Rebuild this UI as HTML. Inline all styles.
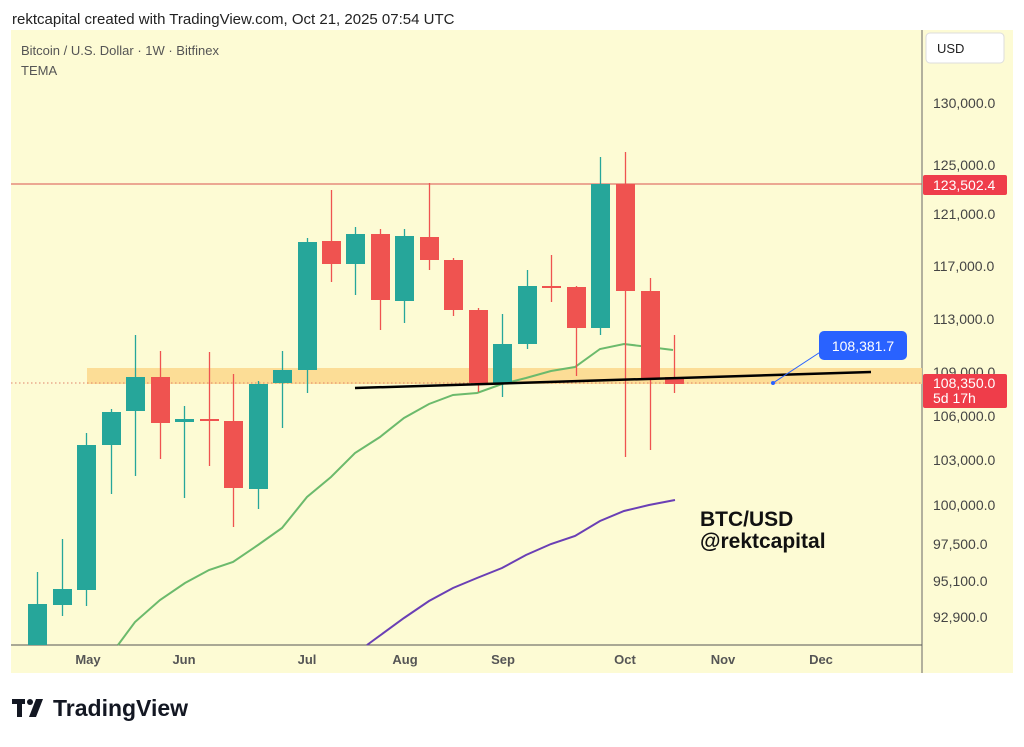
<!DOCTYPE html>
<html><head><meta charset="utf-8"><style>
body{margin:0;background:#fff;width:1024px;height:742px;overflow:hidden;font-family:"Liberation Sans",sans-serif}
</style></head><body>
<svg width="1024" height="742" xmlns="http://www.w3.org/2000/svg" font-family="Liberation Sans, sans-serif">
<text x="12" y="24" font-size="15" fill="#222">rektcapital created with TradingView.com, Oct 21, 2025 07:54 UTC</text>
<rect x="11" y="30" width="1002" height="643" fill="#fdfbd4"/>
<line x1="922" y1="30" x2="922" y2="673" stroke="#666" stroke-width="1"/>
<line x1="11" y1="645" x2="922" y2="645" stroke="#555" stroke-width="1"/>
<text x="21" y="55" font-size="13" fill="#555">Bitcoin / U.S. Dollar · 1W · Bitfinex</text>
<text x="21" y="75" font-size="13" fill="#555">TEMA</text>
<rect x="926" y="33" width="78" height="30" rx="4" fill="#fff" stroke="#ddd"/>
<text x="937" y="53" font-size="13" fill="#222">USD</text>
<rect x="87" y="368" width="835" height="16" fill="#fcd98f" opacity="0.9"/>
<line x1="11" y1="383" x2="922" y2="383" stroke="#e0836a" stroke-dasharray="1.5,2.5"/>
<line x1="11" y1="184" x2="922" y2="184" stroke="#d9534f" stroke-width="1"/>
<polyline fill="none" stroke="#6cba6c" stroke-width="2" points="118,645 135,622 160,600 185,583 209,570 233,562 258,545 282,528 307,497 331,477 355,453 380,437 404,418 429,404 453,395 477,393 502,384 526,378 551,371 575,367 600,349 624,344 649,347 673,350"/>
<polyline fill="none" stroke="#6a3fb5" stroke-width="2" points="367,645 404,618 429,601 453,588 477,578 502,568 526,555 551,544 575,536 600,521 624,511 649,505 675,500"/>
<g stroke-width="1.3">
<g stroke="#26a69a" fill="#26a69a">
<line x1="37.5" y1="572" x2="37.5" y2="645"/><rect x="28" y="604" width="19" height="41" stroke="none"/>
<line x1="62.5" y1="539" x2="62.5" y2="616"/><rect x="53" y="589" width="19" height="16" stroke="none"/>
<line x1="86.5" y1="433" x2="86.5" y2="606"/><rect x="77" y="445" width="19" height="145" stroke="none"/>
<line x1="111.5" y1="409" x2="111.5" y2="494"/><rect x="102" y="412" width="19" height="33" stroke="none"/>
<line x1="135.5" y1="335" x2="135.5" y2="476"/><rect x="126" y="377" width="19" height="34" stroke="none"/>
<line x1="184.5" y1="406" x2="184.5" y2="498"/><rect x="175" y="419" width="19" height="3" stroke="none"/>
<line x1="258.5" y1="381" x2="258.5" y2="509"/><rect x="249" y="384" width="19" height="105" stroke="none"/>
<line x1="282.5" y1="351" x2="282.5" y2="428"/><rect x="273" y="370" width="19" height="13" stroke="none"/>
<line x1="307.5" y1="238" x2="307.5" y2="393"/><rect x="298" y="242" width="19" height="128" stroke="none"/>
<line x1="355.5" y1="227" x2="355.5" y2="295"/><rect x="346" y="234" width="19" height="30" stroke="none"/>
<line x1="404.5" y1="229" x2="404.5" y2="323"/><rect x="395" y="236" width="19" height="65" stroke="none"/>
<line x1="502.5" y1="314" x2="502.5" y2="397"/><rect x="493" y="344" width="19" height="39" stroke="none"/>
<line x1="527.5" y1="270" x2="527.5" y2="349"/><rect x="518" y="286" width="19" height="58" stroke="none"/>
<line x1="600.5" y1="157" x2="600.5" y2="335"/><rect x="591" y="184" width="19" height="144" stroke="none"/>
</g>
<g stroke="#ef5350" fill="#ef5350">
<line x1="160.5" y1="351" x2="160.5" y2="459"/><rect x="151" y="377" width="19" height="46" stroke="none"/>
<line x1="209.5" y1="352" x2="209.5" y2="466"/><rect x="200" y="419" width="19" height="2" stroke="none"/>
<line x1="233.5" y1="374" x2="233.5" y2="527"/><rect x="224" y="421" width="19" height="67" stroke="none"/>
<line x1="331.5" y1="190" x2="331.5" y2="282"/><rect x="322" y="241" width="19" height="23" stroke="none"/>
<line x1="380.5" y1="229" x2="380.5" y2="330"/><rect x="371" y="234" width="19" height="66" stroke="none"/>
<line x1="429.5" y1="183" x2="429.5" y2="270"/><rect x="420" y="237" width="19" height="23" stroke="none"/>
<line x1="453.5" y1="258" x2="453.5" y2="316"/><rect x="444" y="260" width="19" height="50" stroke="none"/>
<line x1="478.5" y1="308" x2="478.5" y2="392"/><rect x="469" y="310" width="19" height="73" stroke="none"/>
<line x1="551.5" y1="255" x2="551.5" y2="302"/><rect x="542" y="286" width="19" height="2" stroke="none"/>
<line x1="576.5" y1="286" x2="576.5" y2="376"/><rect x="567" y="287" width="19" height="41" stroke="none"/>
<line x1="625.5" y1="152" x2="625.5" y2="457"/><rect x="616" y="184" width="19" height="107" stroke="none"/>
<line x1="650.5" y1="278" x2="650.5" y2="450"/><rect x="641" y="291" width="19" height="87" stroke="none"/>
<line x1="674.5" y1="335" x2="674.5" y2="393"/><rect x="665" y="377" width="19" height="7" stroke="none"/>
</g>
</g>
<line x1="355" y1="388" x2="871" y2="372" stroke="#000" stroke-width="2.5"/>
<line x1="828" y1="347" x2="773" y2="383" stroke="#2962ff" stroke-width="1"/>
<circle cx="773" cy="383" r="2" fill="#2962ff"/>
<rect x="819" y="331" width="88" height="29" rx="5" fill="#2962ff"/>
<text x="863" y="351" font-size="14" fill="#fff" text-anchor="middle">108,381.7</text>
<text x="700" y="526" font-size="21" font-weight="bold" fill="#111">BTC/USD</text>
<text x="700" y="548" font-size="21" font-weight="bold" fill="#111">@rektcapital</text>
<g font-size="14" fill="#444">
<text x="933" y="108">130,000.0</text>
<text x="933" y="170">125,000.0</text>
<text x="933" y="219">121,000.0</text>
<text x="933" y="271">117,000.0</text>
<text x="933" y="324">113,000.0</text>
<text x="933" y="377">109,000.0</text>
<text x="933" y="421">106,000.0</text>
<text x="933" y="465">103,000.0</text>
<text x="933" y="510">100,000.0</text>
<text x="933" y="549">97,500.0</text>
<text x="933" y="586">95,100.0</text>
<text x="933" y="622">92,900.0</text>
</g>
<rect x="923" y="175" width="84" height="20" rx="2" fill="#ef3d4a"/>
<text x="933" y="190" font-size="14" fill="#fff">123,502.4</text>
<rect x="923" y="374" width="84" height="34" rx="2" fill="#ef3d4a"/>
<text x="933" y="388" font-size="14" fill="#fff">108,350.0</text>
<text x="933" y="403" font-size="14" fill="#fff">5d 17h</text>
<g font-size="13" fill="#555" font-weight="bold" text-anchor="middle">
<text x="88" y="664">May</text><text x="184" y="664">Jun</text><text x="307" y="664">Jul</text><text x="405" y="664">Aug</text><text x="503" y="664">Sep</text><text x="625" y="664">Oct</text><text x="723" y="664">Nov</text><text x="821" y="664">Dec</text>
</g>
<g fill="#131722">
<rect x="12" y="699" width="13" height="5"/><rect x="17" y="699" width="5" height="18"/>
<circle cx="30" cy="702" r="3"/><polygon points="36,699 43,699 36,717 29,717"/>
</g>
<text x="53" y="716" font-size="23" font-weight="bold" fill="#131722">TradingView</text>
</svg>
</body></html>
